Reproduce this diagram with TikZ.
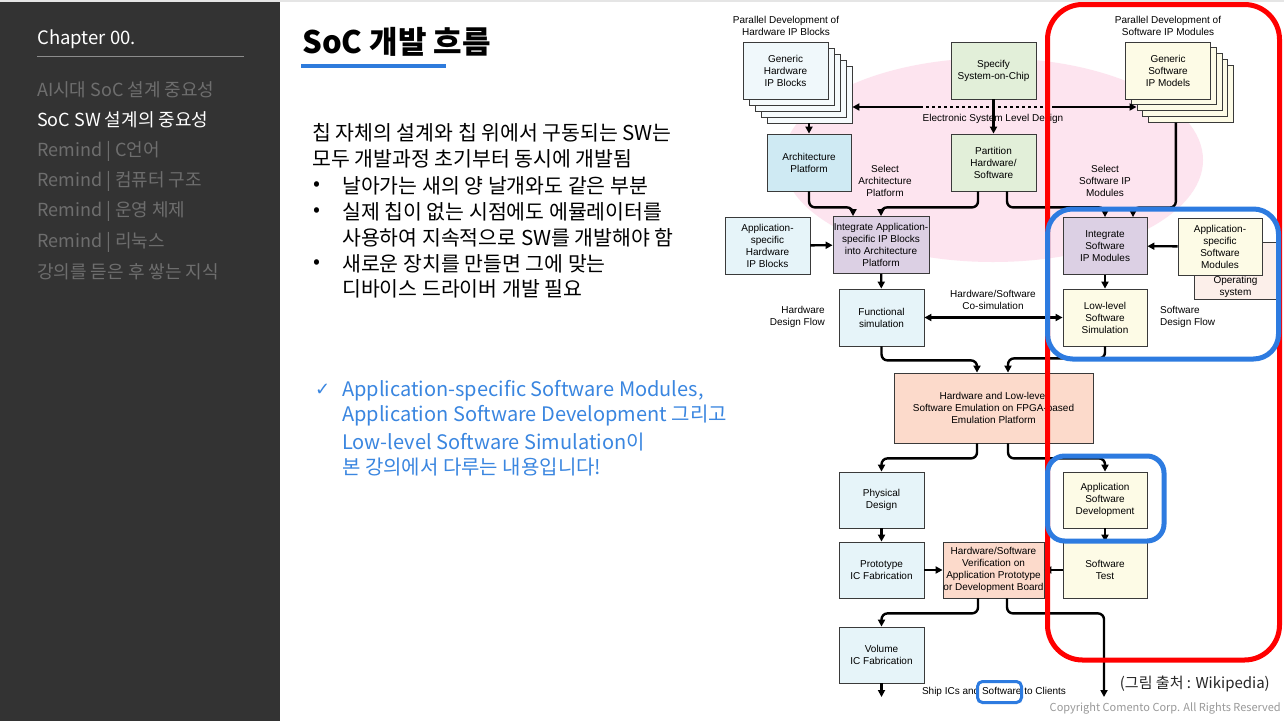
\documentclass[tikz,border=0pt]{standalone}
\usepackage{fontspec}
\setmainfont{Noto Sans CJK KR}
\newfontfamily\arialfont{Liberation Sans}
\newfontfamily\symbfont{DejaVu Sans}
\usetikzlibrary{arrows.meta}

\definecolor{sidebar}{HTML}{333333}
\definecolor{menugray}{HTML}{6E6E6E}
\definecolor{accent}{HTML}{2E7BDC}
\definecolor{notecol}{HTML}{3A86E0}
\definecolor{boxline}{HTML}{3A3A3A}
\definecolor{pinkbg}{HTML}{FDE4EF}
\definecolor{hwfill}{HTML}{F0F8FB}
\definecolor{archfill}{HTML}{CFEAF3}
\definecolor{bluefill}{HTML}{E6F4F9}
\definecolor{greenfill}{HTML}{E2EFD9}
\definecolor{lavfill}{HTML}{DCD0E4}
\definecolor{yelfill}{HTML}{FDFBE6}
\definecolor{osfill}{HTML}{FCEFEA}
\definecolor{peachfill}{HTML}{FCDACB}
\definecolor{hilite}{HTML}{2D7BE0}

\begin{document}
\begin{tikzpicture}[x=1pt,y=-1pt,
    >={Triangle[length=7pt,width=7pt]},
    blk/.style={draw=boxline, line width=0.8pt, minimum width=85pt, minimum height=57pt,
      align=center, inner sep=1pt, font=\arialfont\fontsize{10}{12}\selectfont},
    lbl/.style={align=center, inner sep=0pt, font=\arialfont\fontsize{10}{12}\selectfont},
    flow/.style={line width=2.4pt, rounded corners=6pt, ->},
    menu/.style={anchor=west, inner sep=0pt, text=menugray, font=\fontsize{18}{20}\selectfont},
    body/.style={anchor=west, inner sep=0pt, font=\fontsize{20.5}{22}\selectfont},
    note/.style={anchor=west, inner sep=0pt, text=notecol, font=\fontsize{20}{22}\selectfont},
    hibox/.style={draw=hilite, line width=5pt},
  ]
  \useasboundingbox (0,0) rectangle (1284,721);
  \fill[white] (0,0) rectangle (1284,721);
  \fill[black!10] (0,0) rectangle (1284,2);
  \fill[sidebar] (0,2) rectangle (280,721);

  % sidebar
  \node[menu, text=white, font=\fontsize{18.5}{20}\selectfont] (chap) at (37,39) {Chapter 00.};
  \draw[black!45, line width=1pt] (37,56) -- (244,56);
  \node[menu] (m1) at (37,90) {AI시대 SoC 설계 중요성};
  \node[menu, text=white] (m2) at (37,120) {SoC SW 설계의 중요성};
  \node[menu] (m3) at (37,151) {Remind | C언어};
  \node[menu] (m4) at (37,181) {Remind | 컴퓨터 구조};
  \node[menu] (m5) at (37,211) {Remind | 운영 체제};
  \node[menu] (m6) at (37,242) {Remind | 리눅스};
  \node[menu] (m7) at (37,272) {강의를 듣은 후 쌓는 지식};

  % title and text
  \node[anchor=west, inner sep=0pt, font=\bfseries\fontsize{31}{34}\selectfont] (title) at (302,42) {SoC 개발 흐름};
  \fill[accent] (301,64) rectangle (446,68);

  \node[body] (t1) at (312,133) {칩 자체의 설계와 칩 위에서 구동되는 SW는};
  \node[body] (t2) at (312,159) {모두 개발과정 초기부터 동시에 개발됨};
  \node[body] (b1) at (313,186) {•};
  \node[body] (t3) at (342,186) {날아가는 새의 양 날개와도 같은 부분};
  \node[body] (b2) at (313,212) {•};
  \node[body] (t4) at (342,212) {실제 칩이 없는 시점에도 에뮬레이터를};
  \node[body] (t5) at (342,238) {사용하여 지속적으로 SW를 개발해야 함};
  \node[body] (b3) at (313,264) {•};
  \node[body] (t6) at (342,264) {새로운 장치를 만들면 그에 맞는};
  \node[body] (t7) at (342,289) {디바이스 드라이버 개발 필요};

  \node[note, font=\symbfont\bfseries\fontsize{18}{20}\selectfont] (chk) at (315,390) {✓};
  \node[note] (n1) at (342,391) {Application-specific Software Modules,};
  \node[note] (n2) at (342,416) {Application Software Development 그리고};
  \node[note] (n3) at (342,442) {Low-level Software Simulation이};
  \node[note] (n4) at (342,467) {본 강의에서 다루는 내용입니다!};

  % flow diagram
  \fill[pinkbg] (993,160) ellipse [x radius=210, y radius=102];

  \node[lbl] (hwpar) at (786,26) {Parallel Development of\\Hardware IP Blocks};
  \node[lbl] (swpar) at (1168,26) {Parallel Development of\\Software IP Modules};

  \foreach \k in {4,3,2,1}
    \node[blk, fill=hwfill!60] (hwip\k) at (785.5+6*\k,70.5+6*\k) {};
  \node[blk, fill=hwfill] (hwip) at (785.5,70.5) {Generic\\Hardware\\IP Blocks};
  \foreach \k in {4,3,2,1}
    \node[blk, fill=yelfill] (swip\k) at (1168+5.7*\k,70.5+5.8*\k) {};
  \node[blk, fill=yelfill] (swip) at (1168,70.5) {Generic\\Software\\IP Models};

  \node[blk, fill=greenfill] (spec) at (993.5,70.5) {Specify\\System-on-Chip};
  \node[blk, fill=archfill, minimum width=84pt] (arch) at (809,162.5) {Architecture\\Platform};
  \node[blk, fill=greenfill] (part) at (993.5,162.5) {Partition\\Hardware/\\Software};
  \node[blk, fill=bluefill] (apphw) at (767.5,245.5) {Application-\\specific\\Hardware\\IP Blocks};
  \node[blk, fill=lavfill, minimum width=96pt, inner sep=0pt] (integ) at (881,245) {Integrate Application-\\specific IP Blocks\\into Architecture\\Platform};
  \node[blk, fill=lavfill, minimum width=84pt] (intsw) at (1105,246) {Integrate\\Software\\IP Modules};
  \node[blk, fill=osfill, minimum width=83pt] (os) at (1235.5,271) {};
  \node[lbl] (oslbl) at (1235.5,287) {Operating\\system};
  \node[blk, fill=yelfill, minimum width=84pt] (appsw) at (1220,246.5) {Application-\\specific\\Software\\Modules};
  \node[blk, fill=bluefill] (func) at (881.5,317.5) {Functional\\simulation};
  \node[blk, fill=yelfill, minimum width=84pt] (lowsw) at (1105,317.5) {Low-level\\Software\\Simulation};
  \node[blk, fill=peachfill, minimum width=199pt, minimum height=70pt] (emu) at (993.5,408) {Hardware and Low-level\\Software Emulation on FPGA-based\\Emulation Platform};
  \node[blk, fill=bluefill, minimum height=56pt] (phys) at (881.5,500) {Physical\\Design};
  \node[blk, fill=yelfill, minimum width=84pt, minimum height=56pt] (appdev) at (1105,500) {Application\\Software\\Development};
  \node[blk, fill=bluefill, minimum height=56pt] (proto) at (881.5,570) {Prototype\\IC Fabrication};
  \node[blk, fill=peachfill, minimum width=101pt, minimum height=56pt, inner sep=0pt] (verif) at (993.5,570) {Hardware/Software\\Verification on\\Application Prototype\\or Development Board};
  \node[blk, fill=yelfill, minimum width=84pt, minimum height=56pt] (swtest) at (1105,570) {Software\\Test};
  \node[blk, fill=bluefill, minimum height=56pt] (vol) at (881.5,655) {Volume\\IC Fabrication};

  \node[lbl] (esl) at (993,119) {Electronic System Level Design};
  \node[lbl] (selarch) at (885,181) {Select\\Architecture\\Platform};
  \node[lbl] (selsw) at (1105,181) {Select\\Software IP\\Modules};
  \node[lbl, anchor=east, align=right] (hwflow) at (825,317) {Hardware\\Design Flow};
  \node[lbl] (cosim) at (993,299.5) {Hardware/Software\\Co-simulation};
  \node[lbl, anchor=west, align=left] (swflow) at (1160,317) {Software\\Design Flow};
  \node[lbl] (ship) at (994,692) {Ship ICs and Software to Clients};

  \coordinate (eslA) at (920,107);
  \coordinate (eslB) at (1055,107);
  \coordinate (icout) at (881.5,697);
  \coordinate (swout) at (1104,697);

  \draw[flow] (eslA) -- (hwip4.east |- eslA);
  \draw[line width=2.4pt, dash pattern=on 3pt off 3pt] (eslA) -- (eslB);
  \draw[flow] (eslB) -- (swip2.west |- eslB);
  \draw[flow] (spec) -- (part);
  \draw[flow] (hwip4.south -| arch.north) -- (arch.north);
  \draw[flow] (arch.south) -- ++(0,16) -| ([xshift=-28pt]integ.north);
  \draw[flow] ([xshift=-15.5pt]part.south) -- ++(0,16) -| (integ.north);
  \draw[flow] ([xshift=13.5pt]part.south) -- ++(0,16) -| (intsw.north);
  \draw[flow] ([xshift=-15pt]swip4.south) -- ++(0,85) -| ([xshift=28pt]intsw.north);
  \draw[flow] (apphw) -- (integ);
  \draw[flow] (appsw) -- (intsw);
  \draw[flow] (integ) -- (func);
  \draw[flow] (intsw) -- (lowsw);
  \draw[flow, <->] (func) -- (lowsw);
  \draw[flow] (func.south) -- ++(0,14) -| ([xshift=-16.5pt]emu.north);
  \draw[flow] (lowsw.south) -- ++(0,12) -| ([xshift=14.5pt]emu.north);
  \draw[flow] ([xshift=-16.5pt]emu.south) -- ++(0,15) -| (phys.north);
  \draw[flow] ([xshift=14.5pt]emu.south) -- ++(0,15) -| (appdev.north);
  \draw[flow] (phys) -- (proto);
  \draw[flow] (appdev) -- (swtest);
  \draw[flow] (proto) -- (verif);
  \draw[flow] (swtest) -- (verif);
  \draw[flow] ([xshift=-15.5pt]verif.south) -- ++(0,15) -| (vol.north);
  \draw[flow] ([xshift=13.5pt]verif.south) -- ++(0,15) -| (swout);
  \draw[flow] (vol) -- (icout);

  % highlight marks
  \draw[red, line width=5pt, rounded corners=35pt] (1047.5,4.5) rectangle (1279.5,660);
  \draw[hibox, rounded corners=25pt] (1047.5,209) rectangle (1278.5,359);
  \draw[hibox, rounded corners=17pt] (1047.5,456) rectangle (1164,541);
  \draw[hibox, line width=3pt, rounded corners=5pt] (977.5,681.5) rectangle (1021.5,702.5);

  \node[anchor=east, inner sep=0pt, text=black!85, font=\fontsize{15}{18}\selectfont] (src) at (1270,684) {(그림 출처 : Wikipedia)};
  \node[anchor=east, inner sep=0pt, text=black!40, font=\fontsize{11}{14}\selectfont] (copy) at (1281,708) {Copyright Comento Corp. All Rights Reserved};
\end{tikzpicture}
\end{document}
